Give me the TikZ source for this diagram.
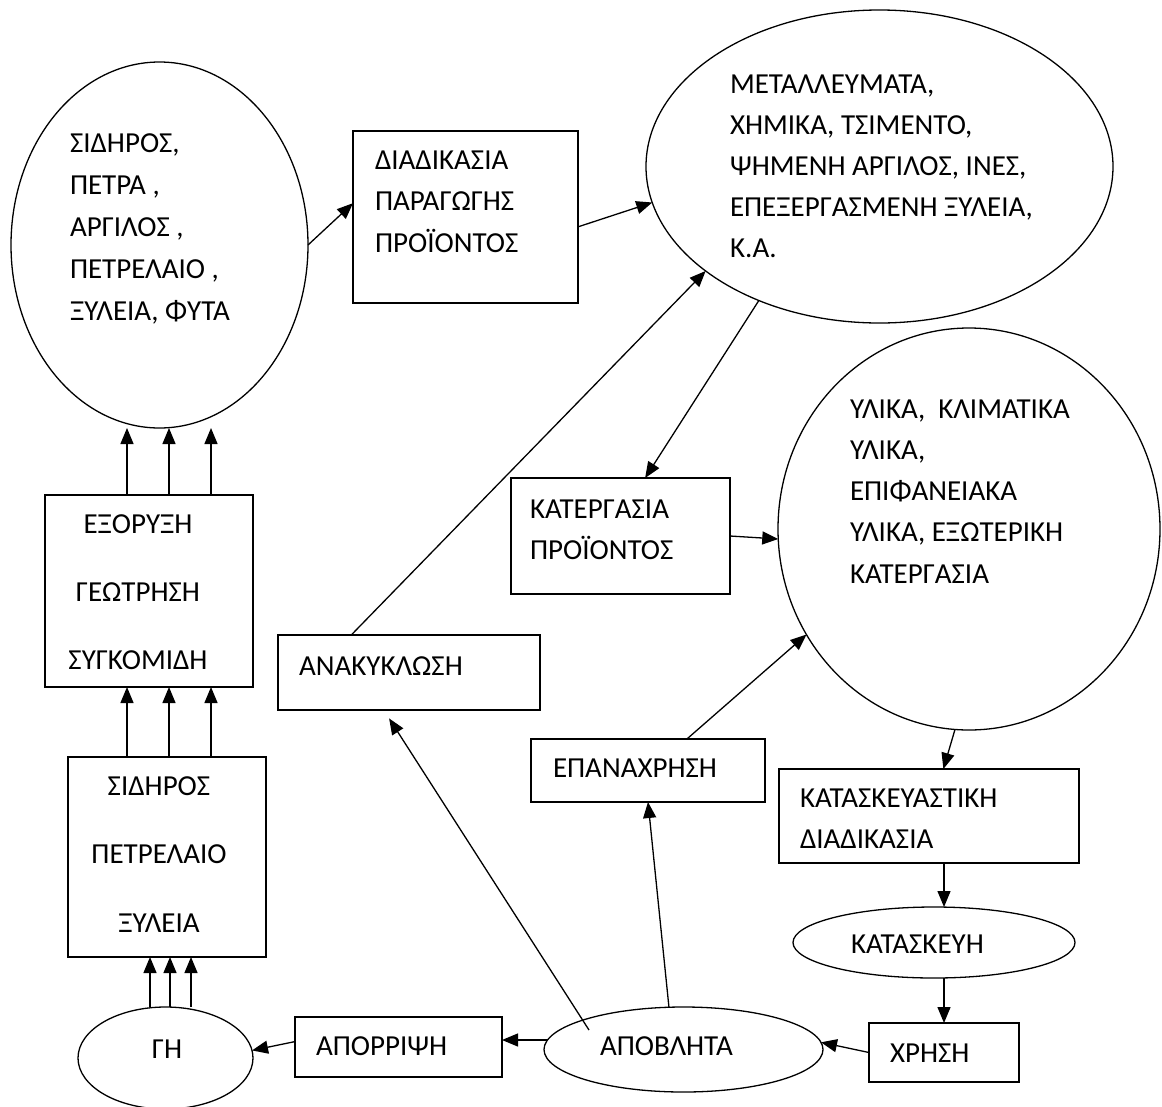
\documentclass[tikz,border=0pt]{standalone}
\usepackage{fontspec}
\setmainfont{Carlito}
\usetikzlibrary{shapes.geometric,arrows.meta,calc}
\newcommand{\ctrline}[1]{\hbox to 240pt{\hfil#1\hfil}}
\begin{document}
\begin{tikzpicture}[x=1pt,y=-1pt,
  every node/.style={inner sep=0pt, outer sep=0pt},
  box/.style={draw, rectangle, line width=1.6pt},
  oval/.style={draw, ellipse, line width=1.3pt},
  txt/.style={anchor=base west, font=\fontsize{29}{41}\selectfont},
  ctxt/.style={anchor=base, font=\fontsize{29}{41}\selectfont},
  arr/.style={line width=1.3pt, -{Triangle[length=16pt,width=13pt]}}]
\clip (0,0) rectangle (1162,1106);
\fill[white] (0,0) rectangle (1162,1106);
% shapes
\node[oval, minimum width=297pt, minimum height=366pt] (e1) at (159.5,245) {};
\node[box, minimum width=225pt, minimum height=172pt] (b1) at (465.5,217) {};
\node[oval, minimum width=467pt, minimum height=313pt] (e2) at (879.5,166.5) {};
\node[oval, minimum width=382pt, minimum height=402pt] (e3) at (969,529) {};
\node[box, minimum width=219pt, minimum height=116pt] (kat) at (620.5,536) {};
\node[box, minimum width=262pt, minimum height=75pt] (anak) at (409,672.5) {};
\node[box, minimum width=234pt, minimum height=63pt] (epan) at (648,770.5) {};
\node[box, minimum width=300pt, minimum height=94pt] (ksd) at (929,816) {};
\node[oval, minimum width=282pt, minimum height=71pt] (key) at (934,942.5) {};
\node[box, minimum width=150pt, minimum height=59pt] (xr) at (944,1052.5) {};
\node[oval, minimum width=279pt, minimum height=85pt] (apo) at (683.5,1049.5) {};
\node[box, minimum width=207pt, minimum height=60pt] (apor) at (398.5,1047) {};
\node[oval, minimum width=175pt, minimum height=102pt] (gh) at (165.5,1058) {};
\node[box, minimum width=208pt, minimum height=192pt] (ex) at (149,591) {};
\node[box, minimum width=198pt, minimum height=200pt] (sid) at (167,857) {};
% texts
\node[txt] (te1) at (70,152) {\vtop{\baselineskip=42pt\hbox{ΣΙΔΗΡΟΣ,}\hbox{ΠΕΤΡΑ ,}\hbox{ΑΡΓΙΛΟΣ ,}\hbox{ΠΕΤΡΕΛΑΙΟ ,}\hbox{ΞΥΛΕΙΑ, ΦΥΤΑ}}};
\node[txt] (tb1) at (375,169) {\vtop{\baselineskip=41.5pt\hbox{ΔΙΑΔΙΚΑΣΙΑ}\hbox{ΠΑΡΑΓΩΓΗΣ}\hbox{ΠΡΟΪΟΝΤΟΣ}}};
\node[txt] (te2) at (730,93) {\vtop{\baselineskip=41pt\hbox{ΜΕΤΑΛΛΕΥΜΑΤΑ,}\hbox{ΧΗΜΙΚΑ, ΤΣΙΜΕΝΤΟ,}\hbox{ΨΗΜΕΝΗ ΑΡΓΙΛΟΣ, ΙΝΕΣ,}\hbox{ΕΠΕΞΕΡΓΑΣΜΕΝΗ ΞΥΛΕΙΑ,}\hbox{Κ.Α.}}};
\node[txt] (te3) at (850,418) {\vtop{\baselineskip=41.25pt\hbox{ΥΛΙΚΑ,\hspace{13pt}ΚΛΙΜΑΤΙΚΑ}\hbox{ΥΛΙΚΑ,}\hbox{ΕΠΙΦΑΝΕΙΑΚΑ}\hbox{ΥΛΙΚΑ, ΕΞΩΤΕΡΙΚΗ}\hbox{ΚΑΤΕΡΓΑΣΙΑ}}};
\node[txt] (tkat) at (530,518) {\vtop{\baselineskip=41pt\hbox{ΚΑΤΕΡΓΑΣΙΑ}\hbox{ΠΡΟΪΟΝΤΟΣ}}};
\node[txt] (tanak) at (299,675) {ΑΝΑΚΥΚΛΩΣΗ};
\node[txt] (tepan) at (553,777) {ΕΠΑΝΑΧΡΗΣΗ};
\node[txt] (tksd) at (800,807) {\vtop{\baselineskip=41pt\hbox{ΚΑΤΑΣΚΕΥΑΣΤΙΚΗ}\hbox{ΔΙΑΔΙΚΑΣΙΑ}}};
\node[txt] (tkey) at (851,953) {ΚΑΤΑΣΚΕΥΗ};
\node[txt] (txr) at (890,1062) {ΧΡΗΣΗ};
\node[txt] (tapo) at (600,1055) {ΑΠΟΒΛΗΤΑ};
\node[txt] (tapor) at (316,1055) {ΑΠΟΡΡΙΨΗ};
\node[ctxt] (tgh) at (167,1058) {ΓΗ};
\node[ctxt] (tex) at (138,533) {\vtop{\baselineskip=68pt\ctrline{ΕΞΟΡΥΞΗ}\ctrline{ΓΕΩΤΡΗΣΗ}\ctrline{ΣΥΓΚΟΜΙΔΗ}}};
\node[ctxt] (tsid) at (159,795) {\vtop{\baselineskip=68.5pt\ctrline{ΣΙΔΗΡΟΣ}\ctrline{ΠΕΤΡΕΛΑΙΟ}\ctrline{ΞΥΛΕΙΑ}}};
% connectors
\draw[arr] (e1.east) -- (b1.173);
\draw[arr] (b1.-5) -- (e2.189);
\draw[arr] (anak.147) -- (e2.211);
\draw[arr] (e2.228) -- (kat.67);
\draw[arr] (kat.east) -- (e3.183);
\draw[arr] (epan.39) -- (e3.213);
\draw[arr] (e3.266) -- (ksd.73);
\draw[arr] (ksd.south -| xr.north) -- (key.north -| xr.north);
\draw[arr] (key.south -| xr.north) -- (xr.north);
\draw[arr] (xr.west) -- (apo.3);
\draw[arr] (apo.176) -- (apo.176 -| apor.east);
\draw[arr] (apor.177) -- (gh.5);
\draw[arr] (apo.109) -- (epan.south);
\draw[arr, shorten >=10pt] ($(apo.center)+(-94.5,-19.5)$) -- (anak.236);
\foreach \dx in {-15.5,4.5,25.5}
  \draw[arr] ([xshift=\dx pt]gh.north) -- ([xshift=\dx pt]gh.north |- sid.south);
\foreach \dx in {-22,20,62}
  \draw[arr] ([xshift=\dx pt]ex.south |- sid.north) -- ([xshift=\dx pt]ex.south);
\foreach \dx in {-22,20,62}
  \draw[arr] ([xshift=\dx pt]ex.north) -- ([xshift=\dx pt]ex.north |- e1.south);
\end{tikzpicture}
\end{document}
